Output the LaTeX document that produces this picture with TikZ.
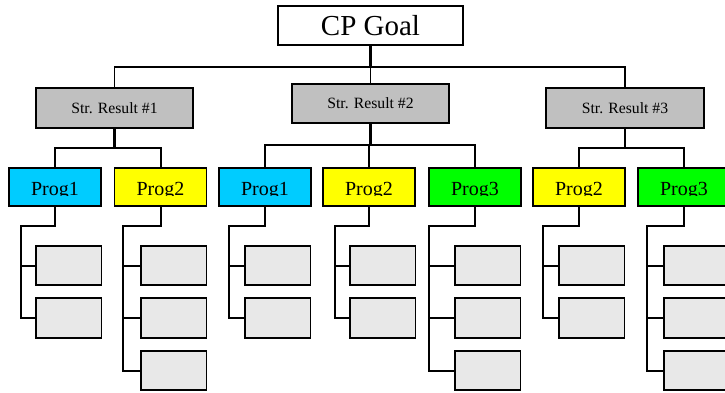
\documentclass[tikz,border=0pt]{standalone}
\usepackage{fontspec}
\setmainfont{Liberation Serif}
\definecolor{resgray}{HTML}{C0C0C0}
\definecolor{leafgray}{HTML}{E8E8E8}
\definecolor{progblue}{HTML}{00CCFF}
\definecolor{progyellow}{HTML}{FFFF00}
\definecolor{proggreen}{HTML}{00FF00}
\begin{document}
\begin{tikzpicture}[x=1pt,y=-1pt,
  box/.style={draw, line width=1.8pt, inner sep=0pt, outer sep=0pt},
  goalbox/.style={box, fill=white, minimum width=185pt, minimum height=39pt,
    font=\fontsize{29}{32}\selectfont},
  resbox/.style={box, fill=resgray, minimum width=157pt, minimum height=40pt,
    font=\fontsize{15.7}{18}\selectfont},
  % programme boxes: the label sits low and is cut off at its baseline
  progbox/.style 2 args={box, fill=#1, minimum width=92pt, minimum height=38pt,
    path picture={
      \clip (path picture bounding box.north west) rectangle
        ([yshift=10.5pt]path picture bounding box.south east);
      \node[draw=none, fill=none, anchor=base, inner sep=0pt,
        font=\fontsize{20}{24}\selectfont]
        at ([yshift=10.5pt]path picture bounding box.south) {#2};}},
  leaf/.style={box, fill=leafgray, minimum width=65.5pt, minimum height=39.5pt},
  bus/.style={line width=1.4pt},
  trunk/.style={line width=3pt},
  wire/.style={line width=2pt},
]
\clip (0,0) rectangle (725,393);

% top level
\node[goalbox] (goal) at (370.5,25.5) {CP Goal};
\node[resbox] (r1) at (114.5,108) {Str. Result \#1};
\node[resbox, minimum height=39pt] (r2) at (370.5,103.5) {Str. Result \#2};
\node[resbox, minimum width=158pt] (r3) at (625,108) {Str. Result \#3};

\coordinate (busmid) at (370.5,67);
\draw[bus] (r1.north) |- (busmid) -| (r3.north);
\draw[bus] (r2.north) -- (r2.north |- busmid);
\draw[trunk] (goal.south) -- (goal.south |- busmid);

% programmes
\node[progbox={progblue}{Prog1}]   (a1) at (55,187) {};
\node[progbox={progyellow}{Prog2}] (a2) at (160.5,187) {};
\node[progbox={progblue}{Prog1}]   (b1) at (265,187) {};
\node[progbox={progyellow}{Prog2}] (b2) at (369,187) {};
\node[progbox={proggreen}{Prog3}]  (b3) at (475,187) {};
\node[progbox={progyellow}{Prog2}] (c2) at (579,187) {};
\node[progbox={proggreen}{Prog3}]  (c3) at (684,187) {};

\coordinate (ja) at (114.5,148);
\coordinate (jb) at (370.5,145);
\coordinate (jc) at (625,148);
\draw[trunk] (r1.south) -- (ja);
\draw[wire] (a1.north) |- (ja) -| (a2.north);
\draw[trunk] (r2.south) -- (jb);
\draw[wire] (b1.north) |- (jb) -| (b3.north);
\draw[wire] (b2.north) -- (b2.north |- jb);
\draw[wire] (r3.south) -- (jc);
\draw[wire] (c2.north) |- (jc) -| (c3.north);

% activity boxes under each programme
\foreach \p/\lx/\sx/\n in {a1/36/21/2, a2/141/123/3, b1/245/229/2, b2/350/335/2,
                           b3/455/429/3, c2/559/543/2, c3/664/647/3} {
  \coordinate (\p-s) at (\sx,226);
  \foreach \k/\ly in {1/265.5, 2/318, 3/370.5} {
    \ifnum\k>\n\relax\else
      \node[leaf] (\p-l\k) at (\lx+32.75,\ly) {};
      \draw[wire] (\p-s |- \p-l\k.west) -- (\p-l\k.west);
    \fi
  }
  \draw[wire] (\p.south) |- (\p-s) |- (\p-l\n.west);
}
\end{tikzpicture}
\end{document}
